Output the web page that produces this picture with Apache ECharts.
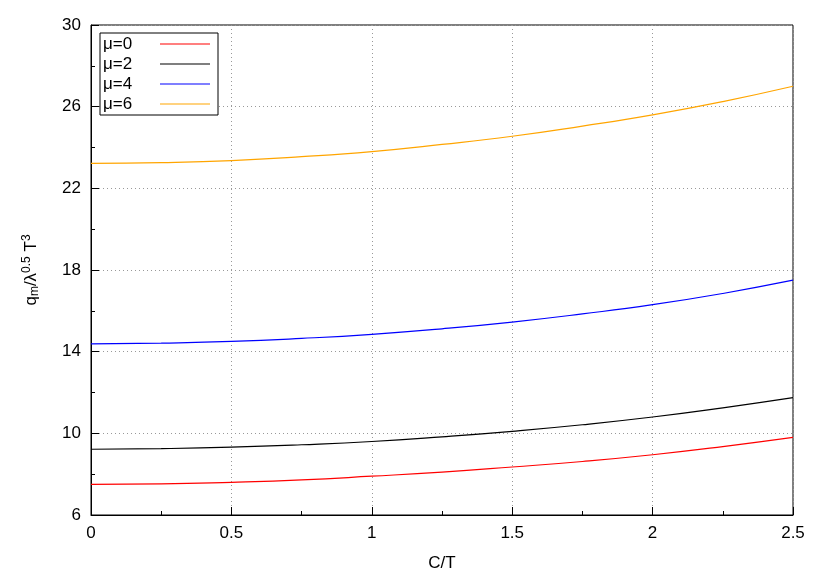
<!DOCTYPE html>
<html><head><meta charset="utf-8">
<script src="https://cdn.jsdelivr.net/npm/echarts@6/dist/echarts.min.js"></script>
<style>html,body{margin:0;padding:0;background:#fff}#c{width:830px;height:581px}</style>
</head><body><div id="c"></div>
<script>
const xs = [0,0.25,0.5,0.75,1,1.25,1.5,1.75,2,2.25,2.5];
const mu0 = [7.5,7.52,7.6,7.72,7.9,8.1,8.35,8.62,8.95,9.35,9.8];
const mu2 = [9.22,9.25,9.32,9.44,9.6,9.83,10.1,10.42,10.8,11.25,11.75];
const mu4 = [14.38,14.42,14.5,14.65,14.85,15.12,15.45,15.85,16.3,16.85,17.5];
const mu6 = [23.22,23.26,23.36,23.55,23.8,24.15,24.55,25.05,25.6,26.25,27.0];
const names = ['μ=0','μ=2','μ=4','μ=6'];
const colors = ['#ff0000','#000000','#0000ff','#ffa500'];
const all = [mu0,mu2,mu4,mu6];
const font = 'Liberation Sans';
const chart = echarts.init(document.getElementById('c'));
function axisCommon(){ return {
  axisLine:{show:true,onZero:false,lineStyle:{color:'#000'}},
  axisTick:{show:true,inside:true,length:8,lineStyle:{color:'#000'}},
  minorTick:{show:true,splitNumber:2,length:4,lineStyle:{color:'#000'}},
  axisLabel:{color:'#000',fontSize:17,fontFamily:font,margin:10},
  splitLine:{show:true,lineStyle:{color:'#999',type:[1,3]}}
};}
const legendG = [{type:'rect',x:100,y:33,shape:{width:118,height:82},style:{fill:'#fff',stroke:'#000',lineWidth:1},z:10}];
names.forEach((n,i)=>{
  const y = 44 + i*20;
  legendG.push({type:'text',x:103,y:y,style:{text:n,fontSize:17,fontFamily:font,fill:'#000',verticalAlign:'middle'},z:11});
  legendG.push({type:'line',shape:{x1:160,y1:y,x2:210,y2:y},style:{stroke:colors[i],lineWidth:1.2},z:11});
});
chart.setOption({
  animation:false,
  grid:{left:91,right:37,top:25,bottom:66,show:true,borderColor:'#000',borderWidth:1},
  xAxis:Object.assign({type:'value',min:0,max:2.5,interval:0.5,name:'C/T',nameLocation:'middle',nameGap:40,
    nameTextStyle:{fontSize:17,fontFamily:font,color:'#000'}},axisCommon()),
  yAxis:Object.assign({type:'value',min:6,max:30,interval:4,
    name:'{a|q}{s|m}{a|/λ}{p|0.5}{a| T}{p|3}',nameLocation:'middle',nameGap:50,nameRotate:90,
    nameTextStyle:{rich:{a:{fontSize:17,fontFamily:font,color:'#000'},s:{fontSize:12,fontFamily:font,color:'#000',verticalAlign:'bottom',padding:[8,0,0,0]},p:{fontSize:12,fontFamily:font,color:'#000',verticalAlign:'top',padding:[0,0,8,0]}}}},axisCommon()),
  series: all.map((arr,i)=>({type:'line',name:names[i],data:xs.map((x,j)=>[x,arr[j]]),smooth:true,showSymbol:false,
    lineStyle:{color:colors[i],width:1.2}})),
  graphic:legendG
});
</script></body></html>
